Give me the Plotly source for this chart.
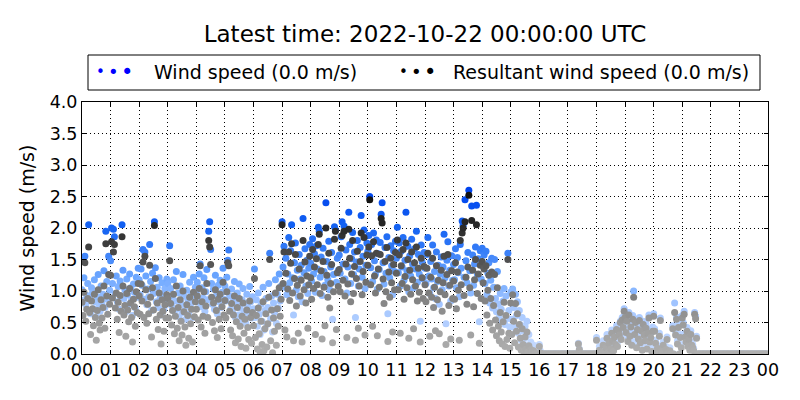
import plotly.graph_objects as go

# hour tick labels along the bottom axis
hour_labels = ["00", "01", "02", "03", "04", "05", "06", "07", "08", "09", "10", "11",
               "12", "13", "14", "15", "16", "17", "18", "19", "20", "21", "22", "23", "00"]

# wind speed (m/s), one row per hour, 2-minute samples
wind_speed = [
    [1.02, 0.85, 1.21, 1.55, 0.78, 0.93, 1.12, 2.05, 0.88, 0.64, 1.05, 0.97, 0.72, 1.18, 0.83, 0.59, 0.91, 1.26, 0.76, 0.68, 1.08, 0.81, 0.95, 1.32, 0.74, 1.95, 1.15, 0.87, 1.55, 1.01],  # 00
    [1.48, 2.00, 1.12, 1.98, 1.86, 0.96, 1.24, 0.83, 1.07, 0.71, 1.16, 0.92, 2.05, 1.33, 0.88, 1.02, 0.67, 1.19, 0.94, 0.79, 1.27, 1.05, 0.86, 0.61, 1.11, 0.98, 0.73, 1.22, 0.90, 1.36],  # 01
    [1.18, 0.94, 1.35, 1.09, 1.66, 0.87, 1.62, 1.24, 0.78, 1.03, 0.91, 1.74, 1.15, 0.69, 1.28, 0.96, 2.10, 1.37, 0.83, 1.06, 0.74, 1.21, 0.89, 0.62, 1.13, 0.95, 0.71, 1.04, 0.86, 1.19],  # 02
    [1.12, 0.86, 1.72, 1.04, 0.77, 0.93, 1.18, 0.68, 0.84, 1.31, 0.72, 0.97, 0.59, 1.08, 0.81, 0.66, 1.26, 0.92, 0.74, 0.55, 1.01, 0.87, 0.63, 1.14, 0.79, 0.94, 0.58, 1.22, 0.85, 1.06],  # 03
    [0.96, 1.14, 0.82, 1.27, 1.43, 0.75, 1.05, 0.89, 1.21, 0.68, 0.99, 1.34, 0.86, 1.95, 2.10, 1.66, 1.12, 0.79, 1.03, 0.71, 1.25, 0.93, 0.64, 1.09, 0.83, 1.17, 0.74, 0.98, 1.36, 0.87],  # 04
    [1.08, 0.84, 1.22, 1.49, 1.65, 0.92, 0.71, 1.03, 0.66, 0.88, 1.15, 0.58, 0.79, 0.97, 0.62, 1.11, 0.73, 0.52, 0.86, 1.04, 0.67, 0.81, 0.49, 0.95, 0.76, 0.61, 1.07, 0.83, 0.57, 0.91],  # 05
    [0.72, 1.35, 0.58, 0.86, 0.44, 0.97, 0.63, 0.31, 0.79, 0.52, 1.06, 0.38, 0.69, 0.88, 0.47, 0.74, 1.12, 1.60, 0.56, 0.92, 0.35, 0.81, 0.66, 1.18, 0.49, 0.95, 0.73, 1.27, 0.84, 1.08],  # 06
    [2.10, 1.38, 1.71, 1.06, 1.52, 0.94, 1.27, 1.85, 1.13, 1.64, 2.05, 1.21, 0.62, 1.45, 1.76, 1.02, 1.33, 0.91, 1.58, 1.19, 1.41, 0.83, 2.15, 1.29, 1.67, 1.08, 1.49, 0.96, 1.36, 1.74],  # 07
    [1.44, 1.16, 1.83, 1.27, 1.59, 0.98, 1.72, 1.35, 2.01, 1.95, 1.22, 1.54, 0.93, 1.68, 1.31, 1.09, 2.40, 1.47, 1.18, 1.79, 1.02, 1.38, 1.61, 0.55, 1.26, 2.02, 1.97, 1.14, 1.52, 1.33],  # 08
    [1.57, 1.28, 1.86, 2.10, 1.43, 2.03, 1.19, 1.65, 0.97, 1.38, 2.25, 1.74, 1.12, 1.51, 1.93, 1.26, 1.62, 0.58, 1.46, 1.80, 1.08, 1.35, 1.69, 2.20, 1.22, 1.55, 1.97, 1.04, 1.41, 1.76],  # 09
    [1.63, 1.88, 2.50, 1.37, 1.74, 1.15, 1.92, 1.48, 1.26, 1.81, 1.03, 1.59, 1.34, 1.77, 2.22, 2.40, 1.45, 1.11, 1.69, 1.28, 1.86, 0.64, 1.53, 1.21, 1.72, 1.40, 0.94, 1.64, 1.31, 1.79],  # 10
    [1.52, 2.01, 1.29, 1.76, 1.08, 1.63, 1.38, 1.85, 1.17, 1.49, 2.25, 1.32, 1.71, 0.99, 1.56, 1.24, 1.82, 1.43, 1.05, 1.67, 1.35, 1.95, 1.14, 1.58, 1.27, 0.52, 1.73, 1.46, 1.19, 1.61],  # 11
    [1.36, 1.12, 1.58, 1.85, 1.24, 0.96, 1.47, 1.19, 1.73, 1.05, 1.31, 0.88, 1.62, 1.15, 1.41, 0.79, 1.27, 1.54, 1.02, 1.38, 1.90, 1.21, 0.48, 1.49, 1.78, 1.08, 1.33, 0.84, 1.56, 1.17],  # 12
    [1.42, 1.18, 1.67, 1.05, 1.53, 1.29, 0.91, 1.74, 1.36, 2.11, 2.04, 1.22, 2.45, 1.48, 1.13, 1.61, 2.60, 1.32, 0.97, 2.35, 1.57, 1.09, 1.43, 1.70, 2.36, 1.26, 1.51, 0.51, 1.64, 1.19],  # 13
    [1.68, 1.39, 1.57, 1.12, 1.63, 0.94, 1.28, 1.45, 0.81, 1.17, 1.52, 0.73, 1.06, 1.50, 0.88, 0.67, 1.31, 0.79, 0.58, 0.96, 0.71, 0.52, 0.84, 1.04, 0.47, 0.92, 0.56, 1.60, 0.69, 0.43],  # 14
    [0.98, 0.55, 1.03, 0.74, 0.42, 0.95, 0.61, 0.83, 0.33, 0.69, 0.47, 0.22, 0.58, 0.37, 0.16, 0.44, 0.26, 0.52, 0.12, 0.31, 0.07, 0.19, 0.09, 0, 0.14, 0, 0, 0, 0, 0],  # 15
    [0.15, 0.05, 0, 0, 0, 0, 0, 0, 0, 0, 0, 0, 0, 0, 0, 0, 0, 0, 0, 0, 0, 0, 0, 0, 0, 0, 0, 0, 0, 0],  # 16
    [0, 0, 0, 0, 0, 0, 0, 0, 0, 0, 0, 0.17, 0.08, 0, 0, 0, 0, 0, 0, 0, 0, 0, 0, 0, 0, 0, 0, 0, 0, 0],  # 17
    [0.26, 0, 0, 0.12, 0, 0, 0, 0.21, 0.09, 0, 0.18, 0.31, 0.07, 0.24, 0, 0.16, 0.38, 0.28, 0.11, 0.33, 0.22, 0.45, 0.19, 0.41, 0.35, 0.52, 0.29, 0.58, 0.47, 0.72],  # 18
    [0.63, 0.41, 0.57, 0.28, 0.66, 0.35, 0.49, 0.22, 0.61, 1.00, 0.38, 0.55, 0.19, 0.46, 0.31, 0.58, 0.25, 0.44, 0.13, 0.52, 0.37, 0.29, 0.48, 0.16, 0.40, 0.62, 0.27, 0.34, 0.11, 0.43],  # 19
    [0.64, 0.40, 0.22, 0, 0.14, 0, 0.33, 0.57, 0.08, 0, 0.19, 0, 0, 0.12, 0.27, 0, 0, 0.10, 0, 0, 0.45, 0, 0.81, 0.36, 0.59, 0.21, 0.47, 0, 0.31, 0.15],  # 20
    [0.61, 0.50, 0.68, 0.33, 0.24, 0.42, 0.17, 0.29, 0.11, 0.37, 0.20, 0.15, 0.09, 0.66, 0.60, 0.28, 0, 0, 0, 0, 0, 0, 0, 0, 0, 0, 0, 0, 0, 0],  # 21
    [0, 0, 0, 0, 0, 0, 0, 0, 0, 0, 0, 0, 0, 0, 0, 0, 0, 0, 0, 0, 0, 0, 0, 0, 0, 0, 0, 0, 0, 0],  # 22
    [0, 0, 0, 0, 0, 0, 0, 0, 0, 0, 0, 0, 0, 0, 0, 0, 0, 0, 0, 0, 0, 0, 0, 0, 0, 0, 0, 0, 0, 0],  # 23
]

# resultant (vector mean) wind speed (m/s), same sampling
resultant_speed = [
    [0.82, 0.61, 0.98, 1.45, 0.52, 0.71, 0.88, 1.70, 0.66, 0.31, 0.84, 0.72, 0.45, 0.95, 0.58, 0.22, 0.69, 1.02, 0.49, 0.38, 0.86, 0.57, 0.74, 1.08, 0.41, 1.75, 0.92, 0.63, 1.26, 0.79],  # 00
    [1.25, 1.78, 0.89, 1.62, 1.74, 0.73, 0.97, 0.55, 0.82, 0.34, 0.93, 0.68, 1.86, 1.08, 0.62, 0.77, 0.28, 0.96, 0.70, 0.51, 1.04, 0.81, 0.58, 0.19, 0.87, 0.75, 0.44, 0.99, 0.66, 1.12],  # 01
    [0.92, 0.63, 1.11, 0.84, 1.46, 0.58, 1.55, 1.02, 0.49, 0.79, 0.64, 1.41, 0.90, 0.27, 1.05, 0.70, 2.04, 1.20, 0.55, 0.81, 0.39, 0.97, 0.62, 0.16, 0.86, 0.68, 0.36, 0.78, 0.57, 0.94],  # 02
    [0.88, 0.57, 1.48, 0.80, 0.46, 0.69, 0.95, 0.32, 0.60, 1.08, 0.41, 0.74, 0.21, 0.86, 0.52, 0.30, 1.00, 0.67, 0.43, 0.14, 0.78, 0.61, 0.25, 0.90, 0.48, 0.71, 0.19, 0.98, 0.59, 0.83],  # 03
    [0.71, 0.92, 0.54, 1.04, 1.40, 0.43, 0.83, 0.60, 0.99, 0.33, 0.76, 1.12, 0.58, 1.80, 1.70, 1.42, 0.90, 0.50, 0.81, 0.37, 1.02, 0.69, 0.26, 0.87, 0.55, 0.95, 0.40, 0.75, 1.14, 0.62],  # 04
    [0.85, 0.57, 0.99, 1.45, 1.40, 0.68, 0.38, 0.80, 0.29, 0.62, 0.92, 0.18, 0.51, 0.74, 0.24, 0.88, 0.44, 0.12, 0.60, 0.81, 0.33, 0.55, 0.09, 0.70, 0.42, 0.23, 0.84, 0.58, 0.17, 0.66],  # 05
    [0.45, 1.20, 0.26, 0.61, 0.08, 0.73, 0.32, 0.03, 0.52, 0.15, 0.83, 0.05, 0.40, 0.64, 0.11, 0.48, 0.90, 1.50, 0.21, 0.70, 0.02, 0.57, 0.36, 0.97, 0.14, 0.72, 0.44, 1.05, 0.60, 0.87],  # 06
    [2.05, 1.12, 1.62, 0.38, 1.28, 0.27, 1.03, 1.62, 0.85, 1.44, 1.75, 0.97, 0.21, 1.20, 1.58, 0.76, 1.09, 0.33, 1.35, 0.92, 1.17, 0.19, 1.80, 1.02, 1.46, 0.81, 1.24, 0.41, 1.10, 1.55],  # 07
    [1.21, 0.87, 1.66, 1.04, 1.38, 0.31, 1.51, 1.10, 1.74, 1.90, 0.96, 1.32, 0.24, 1.47, 1.06, 0.45, 2.00, 1.25, 0.90, 1.60, 0.73, 1.12, 1.42, 0.18, 0.99, 1.82, 1.95, 0.39, 1.29, 1.07],  # 08
    [1.34, 0.99, 1.68, 1.88, 1.17, 1.95, 0.92, 1.43, 0.26, 1.11, 1.98, 1.52, 0.83, 1.27, 1.80, 0.96, 1.39, 0.22, 1.20, 1.63, 0.41, 1.08, 1.47, 1.92, 0.94, 1.31, 1.85, 0.30, 1.14, 1.57],  # 09
    [1.41, 1.70, 2.45, 1.10, 1.56, 0.44, 1.78, 1.24, 0.97, 1.60, 0.29, 1.35, 1.06, 1.58, 2.15, 2.08, 1.19, 0.80, 1.47, 0.99, 1.69, 0.20, 1.30, 0.90, 1.52, 1.13, 0.35, 1.42, 1.02, 1.61],  # 10
    [1.28, 1.81, 1.02, 1.57, 0.33, 1.40, 1.12, 1.66, 0.87, 1.23, 1.76, 1.05, 1.50, 0.25, 1.33, 0.95, 1.62, 1.18, 0.40, 1.45, 1.08, 1.70, 0.84, 1.36, 0.98, 0.19, 1.52, 1.21, 0.88, 1.39],  # 11
    [1.10, 0.83, 1.36, 1.60, 0.97, 0.28, 1.22, 0.90, 1.52, 0.74, 1.06, 0.37, 1.40, 0.86, 1.17, 0.32, 0.99, 1.33, 0.68, 1.13, 1.55, 0.94, 0.15, 1.26, 1.58, 0.77, 1.09, 0.24, 1.32, 0.88],  # 12
    [1.16, 0.87, 1.45, 0.72, 1.30, 1.01, 0.22, 1.80, 1.10, 1.92, 2.00, 0.93, 2.10, 1.22, 0.79, 1.38, 2.52, 1.05, 0.30, 2.12, 1.33, 0.75, 1.18, 1.50, 2.05, 0.96, 1.27, 0.17, 1.41, 0.88],  # 13
    [1.47, 1.13, 1.35, 0.84, 1.40, 0.62, 1.01, 1.25, 0.49, 0.88, 1.30, 0.38, 0.77, 1.26, 0.54, 0.29, 1.05, 0.44, 0.21, 0.66, 0.35, 0.16, 0.51, 0.82, 0.12, 0.61, 0.23, 1.50, 0.33, 0.09],  # 14
    [0.81, 0.31, 0.94, 0.52, 0.18, 0.80, 0.36, 0.64, 0.11, 0.47, 0.25, 0.06, 0.40, 0.15, 0.04, 0.27, 0.08, 0.35, 0.03, 0.13, 0.02, 0.07, 0.03, 0, 0.05, 0, 0, 0, 0, 0],  # 15
    [0.12, 0.02, 0, 0, 0, 0, 0, 0, 0, 0, 0, 0, 0, 0, 0, 0, 0, 0, 0, 0, 0, 0, 0, 0, 0, 0, 0, 0, 0, 0],  # 16
    [0, 0, 0, 0, 0, 0, 0, 0, 0, 0, 0, 0.16, 0.07, 0, 0, 0, 0, 0, 0, 0, 0, 0, 0, 0, 0, 0, 0, 0, 0, 0],  # 17
    [0.22, 0, 0, 0.06, 0, 0, 0, 0.14, 0.03, 0, 0.10, 0.25, 0.02, 0.17, 0, 0.08, 0.33, 0.21, 0.05, 0.27, 0.15, 0.39, 0.12, 0.36, 0.30, 0.50, 0.23, 0.54, 0.42, 0.68],  # 18
    [0.58, 0.34, 0.52, 0.20, 0.62, 0.28, 0.43, 0.14, 0.55, 0.90, 0.31, 0.50, 0.10, 0.39, 0.24, 0.53, 0.18, 0.37, 0.06, 0.47, 0.30, 0.21, 0.41, 0.08, 0.33, 0.57, 0.19, 0.26, 0.04, 0.36],  # 19
    [0.60, 0.36, 0.17, 0, 0.09, 0, 0.28, 0.53, 0.04, 0, 0.14, 0, 0, 0.07, 0.23, 0, 0, 0.05, 0, 0, 0.40, 0, 0.66, 0.30, 0.55, 0.16, 0.42, 0, 0.26, 0.10],  # 20
    [0.57, 0.46, 0.63, 0.27, 0.19, 0.36, 0.12, 0.23, 0.06, 0.31, 0.14, 0.10, 0.05, 0.63, 0.56, 0.25, 0, 0, 0, 0, 0, 0, 0, 0, 0, 0, 0, 0, 0, 0],  # 21
    [0, 0, 0, 0, 0, 0, 0, 0, 0, 0, 0, 0, 0, 0, 0, 0, 0, 0, 0, 0, 0, 0, 0, 0, 0, 0, 0, 0, 0, 0],  # 22
    [0, 0, 0, 0, 0, 0, 0, 0, 0, 0, 0, 0, 0, 0, 0, 0, 0, 0, 0, 0, 0, 0, 0, 0, 0, 0, 0, 0, 0, 0],  # 23
]

latest_wind = 0.0
latest_resultant = 0.0
title_text = "Latest time: 2022-10-22 00:00:00 UTC"


def flatten(rows):
    # each row is one hour of 2-minute samples -> decimal hours on the x axis
    xs, ys = [], []
    for hour, row in enumerate(rows):
        for i, v in enumerate(row):
            xs.append(hour + i * 2 / 60)
            ys.append(v)
    return xs, ys


wx, wy = flatten(wind_speed)
rx, ry = flatten(resultant_speed)

blue_scale = [[0.0, "#c8dcff"], [0.3, "#a4c6ff"], [0.46, "#70a9ff"],
              [0.62, "#3a80f8"], [0.77, "#1462f2"], [1.0, "#0044ee"]]
gray_scale = [[0.0, "#b0b0b0"], [0.2, "#9a9a9a"], [0.4, "#7a7a7a"],
              [0.6, "#505050"], [0.8, "#2a2a2a"], [1.0, "#111111"]]

fig = go.Figure()
fig.add_trace(go.Scatter(
    x=wx, y=wy, mode="markers", showlegend=False,
    marker=dict(size=7, color=wy, colorscale=blue_scale, cmin=0, cmax=2.6, line=dict(width=0))
))
fig.add_trace(go.Scatter(
    x=rx, y=ry, mode="markers", showlegend=False,
    marker=dict(size=7, color=ry, colorscale=gray_scale, cmin=0, cmax=2.5, line=dict(width=0))
))

font = dict(family="DejaVu Sans", color="black")

# the page body adds an 8px margin, so the figure is 8px smaller and shifted
W, H, OFF = 792, 392, 8


def px_x(p):
    return (p - 82) / 686


def px_y(p):
    return 1 + (102 - p) / 252


# legend box drawn by hand so it gets matplotlib's three-dot markers
fig.add_shape(type="rect", xref="paper", yref="paper",
              x0=px_x(88), x1=px_x(760), y0=px_y(90), y1=px_y(55),
              line=dict(color="black", width=1), fillcolor="white")
legend_items = [
    ((100, 113, 127), "#0000ff", f"Wind speed ({latest_wind:.1f} m/s)", 152),
    ((403, 416, 430), "#000000", f"Resultant wind speed ({latest_resultant:.1f} m/s)", 451),
]
for dots, col, label, text_x in legend_items:
    for dx, fs in zip(dots, (15, 18, 21)):
        fig.add_annotation(xref="paper", yref="paper", x=px_x(dx), y=px_y(72),
                           xanchor="center", yanchor="middle", showarrow=False,
                           text="•", font=dict(family="DejaVu Sans", size=fs, color=col))
    fig.add_annotation(xref="paper", yref="paper", x=px_x(text_x), y=px_y(72),
                       xanchor="left", yanchor="middle", showarrow=False,
                       text=label, font=dict(font, size=19))

fig.update_layout(
    width=W, height=H,
    margin=dict(l=82 - OFF, r=800 - 768, t=102 - OFF, b=400 - 354),
    paper_bgcolor="white", plot_bgcolor="white",
    font=font,
    title=dict(text=title_text, x=0.5, xref="paper", xanchor="center",
               y=1 - (34 - OFF) / H, yanchor="middle", font=dict(font, size=23)),
)
fig.update_xaxes(
    range=[0, 24], tickmode="array", tickvals=list(range(25)), ticktext=hour_labels,
    showline=True, linecolor="black", linewidth=1, mirror="ticks",
    ticks="inside", ticklen=4, tickcolor="black", automargin=False,
    showgrid=True, gridcolor="black", gridwidth=1, griddash="1px,3px",
    zeroline=False, tickfont=dict(font, size=17.5),
)
fig.update_yaxes(
    range=[0, 4], dtick=0.5, tickformat=".1f",
    showline=True, linecolor="black", linewidth=1, mirror="ticks",
    ticks="inside", ticklen=4, tickcolor="black", automargin=False,
    showgrid=True, gridcolor="black", gridwidth=1, griddash="1px,3px",
    zeroline=False, tickfont=dict(font, size=17.5),
    title=dict(text="Wind speed (m/s)", font=dict(font, size=19), standoff=10),
)

fig.write_html("out.html")
